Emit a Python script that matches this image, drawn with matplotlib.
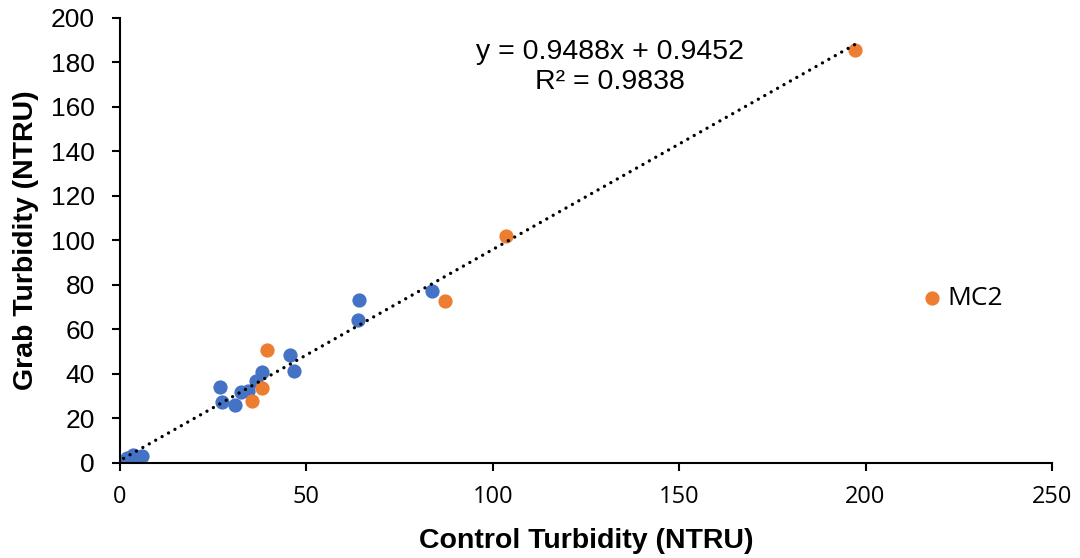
import numpy as np
import matplotlib
matplotlib.use('Agg')
import matplotlib.pyplot as plt

plt.rcParams['font.family'] = ['Liberation Sans', 'DejaVu Sans']

# Blue series (control vs grab turbidity)
blue_x = [1.0, 2.0, 3.0, 3.5, 5.0, 6.0, 26.8, 27.4, 31.0, 32.6, 34.4, 36.4, 38.2,
          45.6, 46.7, 63.8, 64.1, 83.8]
blue_y = [0.8, 2.0, 1.5, 3.5, 2.5, 3.0, 34.2, 27.2, 25.7, 31.7, 32.4, 36.9, 40.7,
          48.2, 41.0, 64.3, 73.3, 77.0]

# Orange series
orange_x = [35.5, 38.0, 39.5, 87.3, 103.5, 197.2]
orange_y = [27.6, 33.6, 50.5, 72.7, 102.1, 185.6]

# outlier, labelled MC2 (not part of the trendline)
mc2_x = 217.8
mc2_y = 73.9

# trendline from the chart
slope = 0.9488
intercept = 0.9452
r2 = 0.9838

fig = plt.figure(figsize=(10.8, 5.58), dpi=100)
ax = fig.add_axes([0.111, 0.171, 0.863, 0.797])

fit_x = np.array([min(blue_x + orange_x), max(blue_x + orange_x)])
ax.plot(fit_x, slope * fit_x + intercept, color='black', lw=2.4,
        linestyle=(0, (0.01, 2.2)), dash_capstyle='round', zorder=3)

ax.scatter(blue_x, blue_y, s=105, color='#4472C4', zorder=2, linewidths=0)
ax.scatter(orange_x + [mc2_x], orange_y + [mc2_y], s=105, color='#ED7D31', zorder=2, linewidths=0)

ax.text(131.4, 177.7, f"y = {slope}x + {intercept}\nR² = {r2}", ha='center', va='center',
        fontsize=20.5, linespacing=1.2)
ax.text(222.0, mc2_y, "MC2", ha='left', va='center', fontsize=19, family='Open Sans')

ax.set_xlim(0, 250)
ax.set_ylim(0, 200)
ax.set_xticks(np.arange(0, 251, 50))
ax.set_yticks(np.arange(0, 201, 20))
ax.spines['top'].set_visible(False)
ax.spines['right'].set_visible(False)
for s in ['left', 'bottom']:
    ax.spines[s].set_linewidth(1.5)
ax.tick_params(width=1.5, length=6, colors='black')
ax.tick_params(axis='y', labelsize=19, pad=12)
ax.tick_params(axis='x', labelsize=17, pad=10)
for lab in ax.get_xticklabels():
    lab.set_family('Open Sans')

ax.set_xlabel("Control Turbidity (NTRU)", fontsize=20.5, fontweight='bold')
ax.set_ylabel("Grab Turbidity (NTRU)", fontsize=20.5, fontweight='bold')
ax.xaxis.label.set_va('center')
ax.yaxis.label.set_va('center')
ax.xaxis.set_label_coords(0.5, -0.176)
ax.yaxis.set_label_coords(-0.101, 0.5)

fig.savefig("out.png", dpi=100)
plt.close()
